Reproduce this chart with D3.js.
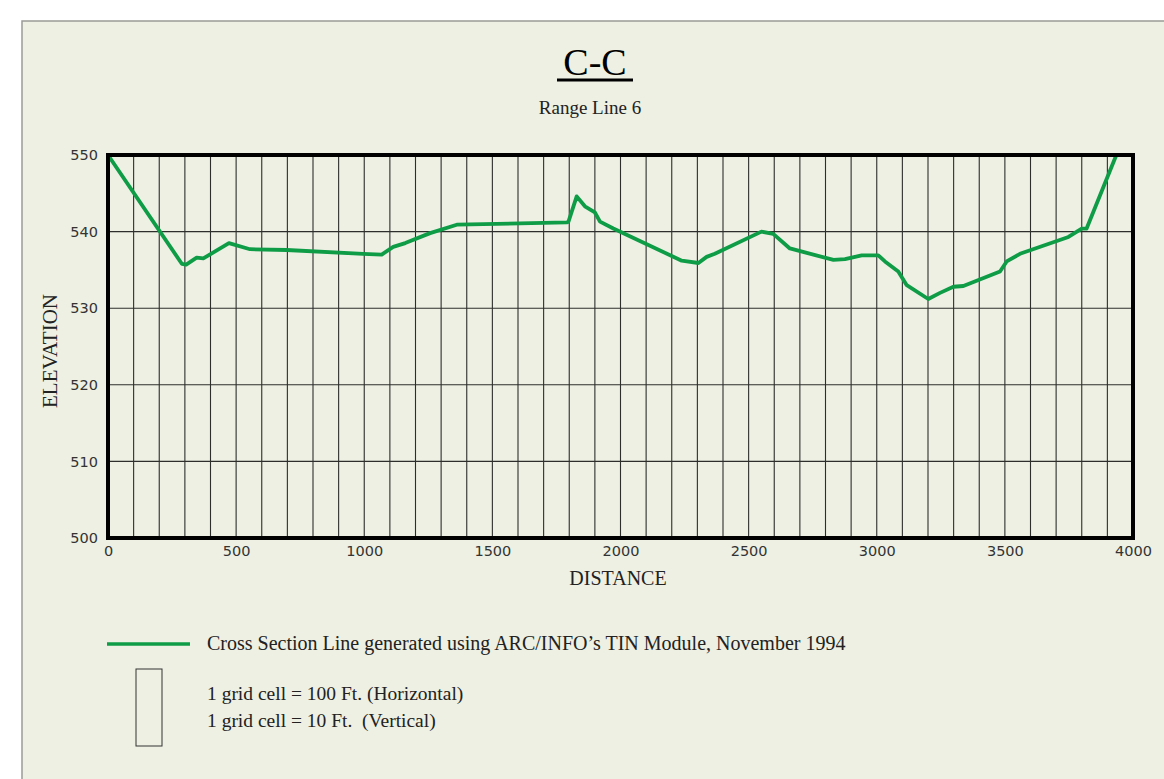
<!DOCTYPE html>
<html>
<head>
<meta charset="utf-8">
<script src="https://cdn.jsdelivr.net/npm/d3@7"></script>
<style>
  body { margin: 0; background: #fff; }
  svg { display: block; }
</style>
</head>
<body>
<svg></svg>
<script>
// cross section values
const distance = [0, 288, 305, 346, 372, 472, 554, 697, 995, 1068, 1113, 1160, 1257, 1361,
    1790, 1797, 1829, 1861, 1900, 1920, 1972, 2239, 2304, 2336, 2368, 2550, 2596, 2661,
    2831, 2876, 2941, 3006, 3032, 3084, 3117, 3201, 3247, 3299, 3338, 3481, 3507, 3559,
    3748, 3800, 3819, 3935];
const elevation = [550, 535.8, 535.7, 536.6, 536.5, 538.5, 537.7, 537.6, 537.1, 537.0, 538.0, 538.5, 539.8, 540.9,
    541.2, 541.3, 544.6, 543.3, 542.5, 541.3, 540.4, 536.2, 535.9, 536.7, 537.1, 540.0, 539.7, 537.8,
    536.3, 536.4, 536.9, 536.9, 536.1, 534.8, 533.0, 531.2, 532.0, 532.8, 532.9, 534.8, 536.1, 537.1,
    539.3, 540.4, 540.4, 550];
const xTicks = [0, 500, 1000, 1500, 2000, 2500, 3000, 3500, 4000];
const yTicks = [500, 510, 520, 530, 540, 550];
const legendLines = ['1 grid cell = 100 Ft. (Horizontal)', '1 grid cell = 10 Ft.  (Vertical)'];

const size = {w: 1164, h: 779};
const plot = {l: 108, r: 1133, t: 155, b: 538};
const green = '#0e9c46';
const serif = '"Liberation Serif", "Times New Roman", serif';

const svg = d3.select('svg').attr('width', size.w).attr('height', size.h);

// beige sheet with a grey edge
svg.append('rect')
    .attr('x', 22).attr('y', 21)
    .attr('width', size.w).attr('height', size.h)
    .attr('fill', '#edf0e3')
    .attr('stroke', '#9a9a96').attr('stroke-width', 1.5);

const x = d3.scaleLinear().domain([0, 4000]).range([plot.l, plot.r]);
const y = d3.scaleLinear().domain([500, 550]).range([plot.b, plot.t]);

// grid: one cell = 100 ft across, 10 ft up
const gridG = svg.append('g').attr('stroke', '#1a1a1a').attr('stroke-width', 1.1).attr('opacity', 0.9);
gridG.selectAll('line.v')
    .data(d3.range(100, 4000, 100))
    .join('line')
    .attr('x1', d => x(d)).attr('x2', d => x(d))
    .attr('y1', plot.t).attr('y2', plot.b);
gridG.selectAll('line.h')
    .data(d3.range(510, 550, 10))
    .join('line')
    .attr('x1', plot.l).attr('x2', plot.r)
    .attr('y1', d => y(d)).attr('y2', d => y(d));

// axes, only the labels are kept
const xAxis = svg.append('g')
    .attr('transform', `translate(0,${plot.b})`)
    .call(d3.axisBottom(x).tickValues(xTicks).tickFormat(d3.format('d')).tickSize(0).tickPadding(8));
const yAxis = svg.append('g')
    .attr('transform', `translate(${plot.l},0)`)
    .call(d3.axisLeft(y).tickValues(yTicks).tickFormat(d3.format('d')).tickSize(0).tickPadding(10));
[xAxis, yAxis].forEach(a => {
    a.select('.domain').remove();
    a.selectAll('text')
        .attr('font-family', '"DejaVu Sans", sans-serif')
        .attr('font-size', 14.5)
        .attr('fill', '#333');
});

// profile line
const line = d3.line()
    .x((d, i) => x(distance[i]))
    .y(d => y(d));
svg.append('path')
    .datum(elevation)
    .attr('d', line)
    .attr('fill', 'none')
    .attr('stroke', green)
    .attr('stroke-width', 3.8)
    .attr('stroke-linejoin', 'round');

// heavy frame
svg.append('rect')
    .attr('x', plot.l).attr('y', plot.t)
    .attr('width', plot.r - plot.l).attr('height', plot.b - plot.t)
    .attr('fill', 'none')
    .attr('stroke', '#000').attr('stroke-width', 4);

// titles
svg.append('text')
    .attr('x', 595).attr('y', 75)
    .attr('text-anchor', 'middle')
    .attr('font-family', serif).attr('font-size', 38)
    .text('C-C');
svg.append('rect')
    .attr('x', 557).attr('y', 78.5)
    .attr('width', 76).attr('height', 3)
    .attr('fill', '#000');
svg.append('text')
    .attr('x', 590).attr('y', 114)
    .attr('text-anchor', 'middle')
    .attr('font-family', serif).attr('font-size', 19)
    .attr('fill', '#222')
    .text('Range Line 6');

svg.append('text')
    .attr('x', 618).attr('y', 585)
    .attr('text-anchor', 'middle')
    .attr('font-family', serif).attr('font-size', 20)
    .attr('fill', '#222')
    .text('DISTANCE');
svg.append('text')
    .attr('transform', 'translate(57,351) rotate(-90)')
    .attr('text-anchor', 'middle')
    .attr('font-family', serif).attr('font-size', 21)
    .attr('fill', '#222')
    .text('ELEVATION');

// legend
const legendG = svg.append('g');
legendG.append('line')
    .attr('x1', 107).attr('x2', 190)
    .attr('y1', 644).attr('y2', 644)
    .attr('stroke', green).attr('stroke-width', 3.5);
legendG.append('text')
    .attr('x', 207).attr('y', 650)
    .attr('font-family', serif).attr('font-size', 20)
    .attr('fill', '#222')
    .text('Cross Section Line generated using ARC/INFO\u2019s TIN Module, November 1994');
legendG.append('rect')
    .attr('x', 136).attr('y', 669)
    .attr('width', 26).attr('height', 77)
    .attr('fill', 'none')
    .attr('stroke', '#333').attr('stroke-width', 1);
legendG.selectAll('text.cell')
    .data(legendLines)
    .join('text')
    .classed('cell', true)
    .attr('x', 207)
    .attr('y', (d, i) => 700 + i * 27)
    .attr('font-family', serif).attr('font-size', 19.5)
    .attr('fill', '#222')
    .attr('xml:space', 'preserve')
    .style('white-space', 'pre')
    .text(d => d);
</script>
</body>
</html>
